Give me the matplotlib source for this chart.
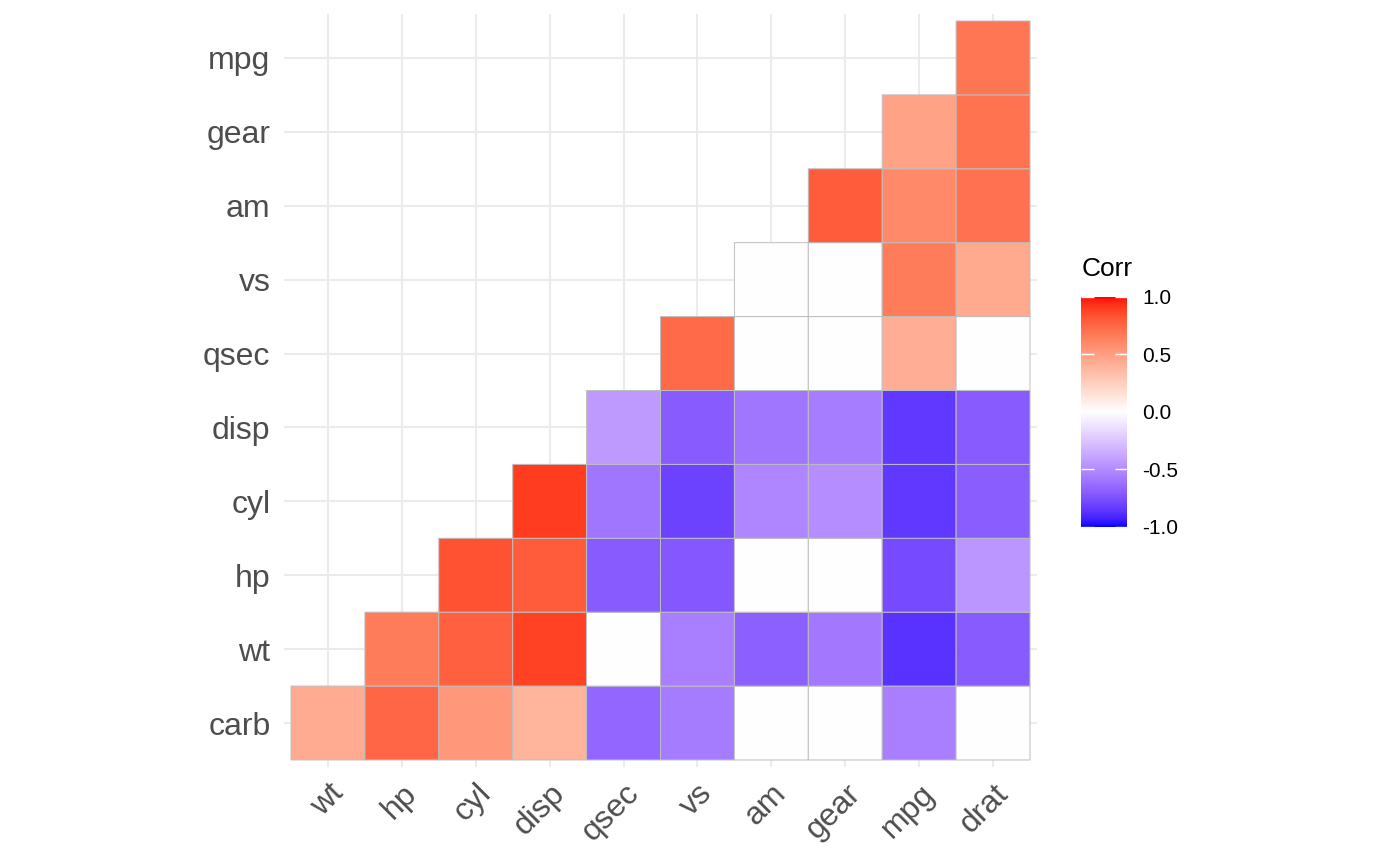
import numpy as np
import matplotlib
matplotlib.use('Agg')
import matplotlib.pyplot as plt
from matplotlib.colors import ListedColormap

plt.rcParams['font.family'] = ['Liberation Sans', 'DejaVu Sans']

# 데이터 : mtcars 상관계수 (하삼각, 유의하지 않은 값은 nan)
x_labels = ['wt', 'hp', 'cyl', 'disp', 'qsec', 'vs', 'am', 'gear', 'mpg', 'drat']
y_labels = ['carb', 'wt', 'hp', 'cyl', 'disp', 'qsec', 'vs', 'am', 'gear', 'mpg']
nan = np.nan

carb = [0.43, 0.75, 0.53, 0.39, -0.66, -0.57, nan, nan, -0.55, nan]
wt = [None, 0.66, 0.78, 0.89, nan, -0.55, -0.69, -0.58, -0.87, -0.71]
hp = [None, None, 0.83, 0.79, -0.71, -0.72, nan, nan, -0.78, -0.45]
cyl = [None, None, None, 0.90, -0.59, -0.81, -0.52, -0.49, -0.85, -0.70]
disp = [None, None, None, None, -0.43, -0.71, -0.59, -0.56, -0.85, -0.71]
qsec = [None, None, None, None, None, 0.74, nan, nan, 0.42, nan]
vs = [None, None, None, None, None, None, nan, nan, 0.66, 0.44]
am = [None, None, None, None, None, None, None, 0.79, 0.60, 0.71]
gear = [None, None, None, None, None, None, None, None, 0.48, 0.70]
mpg = [None, None, None, None, None, None, None, None, None, 0.68]
rows = [carb, wt, hp, cyl, disp, qsec, vs, am, gear, mpg]

cbar_ticks = [-1.0, -0.5, 0.0, 0.5, 1.0]


# blue - white - red 를 Lab 공간에서 보간 (ggplot gradient2 흉내)
def to_lab(rgb):
    c = np.asarray(rgb, float)
    c = np.where(c <= 0.04045, c / 12.92, ((c + 0.055) / 1.055) ** 2.4)
    m = np.array([[0.4124, 0.3576, 0.1805],
                  [0.2126, 0.7152, 0.0722],
                  [0.0193, 0.1192, 0.9505]])
    xyz = m @ c / np.array([0.95047, 1.0, 1.08883])
    f = np.where(xyz > 0.008856, np.cbrt(xyz), 7.787 * xyz + 16 / 116)
    return np.array([116 * f[1] - 16, 500 * (f[0] - f[1]), 200 * (f[1] - f[2])])


def from_lab(lab):
    L, a, b = lab
    fy = (L + 16) / 116
    fx = fy + a / 500
    fz = fy - b / 200
    f = np.array([fx, fy, fz])
    xyz = np.where(f ** 3 > 0.008856, f ** 3, (f - 16 / 116) / 7.787)
    xyz = xyz * np.array([0.95047, 1.0, 1.08883])
    mi = np.array([[3.2406, -1.5372, -0.4986],
                   [-0.9689, 1.8758, 0.0415],
                   [0.0557, -0.2040, 1.0570]])
    c = mi @ xyz
    c = np.where(c <= 0.0031308, 12.92 * c, 1.055 * np.clip(c, 0, None) ** (1 / 2.4) - 0.055)
    return np.clip(c, 0, 1)


lab_b, lab_w, lab_r = to_lab([0, 0, 1]), to_lab([1, 1, 1]), to_lab([1, 0, 0])
cols = []
for t in np.linspace(0, 1, 256):
    if t < 0.5:
        cols.append(from_lab(lab_b + (lab_w - lab_b) * t / 0.5))
    else:
        cols.append(from_lab(lab_w + (lab_r - lab_w) * (t - 0.5) / 0.5))
cmap = ListedColormap(cols)

vals = np.array([[nan if v is None else v for v in r] for r in rows])
absent = np.array([[v is None for v in r] for r in rows])
shown = np.ma.masked_array(np.nan_to_num(vals, nan=0.0), mask=absent)

# 시각화
fig = plt.figure(figsize=(14, 8.66), dpi=100)
ax = fig.add_axes([0.2026, 0.1139, 0.5384, 0.8704])

edges = np.arange(len(x_labels) + 1) - 0.5
pc = ax.pcolor(edges, edges, shown, cmap=cmap, vmin=-1, vmax=1,
               edgecolors='#BEBEBE', linewidth=0.7, zorder=2)

ax.set_xlim(-0.6, 9.6)
ax.set_ylim(-0.6, 9.6)
ax.set_xticks(range(len(x_labels)))
ax.set_yticks(range(len(y_labels)))
ax.set_xticklabels(x_labels, rotation=45, ha='right', va='top', rotation_mode='anchor')
ax.set_yticklabels(y_labels)
ax.tick_params(length=0, labelsize=23, labelcolor='#4D4D4D')
ax.tick_params(axis='y', pad=9.5)
ax.tick_params(axis='x', pad=8)
ax.grid(color='#EBEBEB', linewidth=1.5, zorder=0)
ax.set_axisbelow(True)
for s in ax.spines.values():
    s.set_visible(False)

# 범례
cax = fig.add_axes([0.7721, 0.3917, 0.0329, 0.2656])
cb = fig.colorbar(pc, cax=cax, ticks=cbar_ticks)
cb.outline.set_visible(False)
cb.ax.set_yticklabels(['%.1f' % t for t in cbar_ticks])
cax.tick_params(axis='y', left=True, right=True, direction='in', length=9,
                color='white', width=1, labelcolor='black', labelsize=15, pad=11)
fig.text(0.7726, 0.6813, 'Corr', fontsize=19, va='baseline', ha='left')

plt.savefig('out.png', dpi=100)
